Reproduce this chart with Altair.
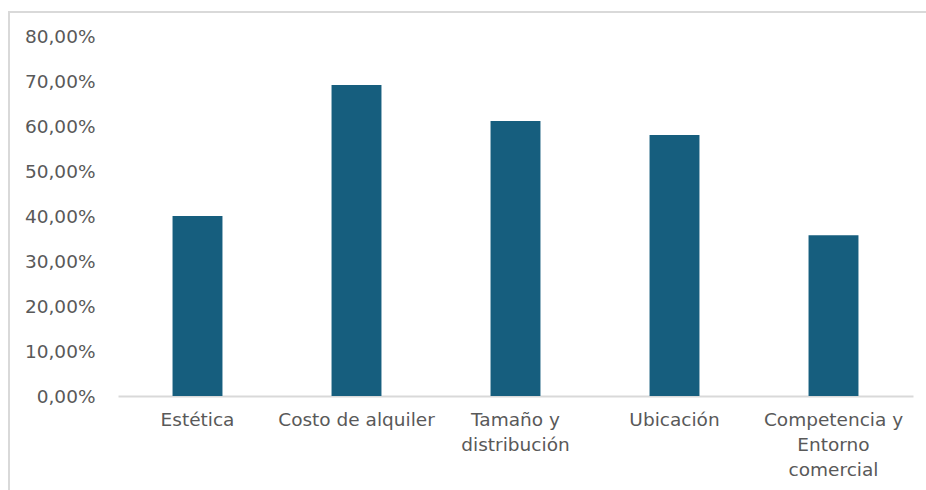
import altair as alt
import pandas as pd

# Survey factors and the share of respondents who rated each one as important
categorias = [
    "Estética",
    "Costo de alquiler",
    "Tamaño y|distribución",
    "Ubicación",
    "Competencia y|Entorno|comercial",
]
porcentajes = [0.400, 0.691, 0.611, 0.580, 0.357]
ticks_y = [0.0, 0.1, 0.2, 0.3, 0.4, 0.5, 0.6, 0.7, 0.8]

df = pd.DataFrame({"categoria": categorias, "valor": porcentajes})

FONT = "DejaVu Sans"
FS = 18.5
GRIS_TEXTO = "#595959"
GRIS_LINEA = "#D9D9D9"
AZUL = "#165E7E"

W, H = 795, 360
PAD_L, PAD_T = 118, 36

bars = alt.Chart(df).mark_bar(color=AZUL).encode(
    x=alt.X(
        "categoria:N",
        sort=None,
        title=None,
        scale=alt.Scale(paddingInner=0.686, paddingOuter=0.343),
        axis=alt.Axis(
            labelAngle=0,
            labelExpr="split(datum.label, '|')",
            labelLineHeight=25,
            labelPadding=14,
            labelFontSize=FS,
            labelColor=GRIS_TEXTO,
            labelFont=FONT,
            ticks=False,
            domainColor=GRIS_LINEA,
            domainWidth=2,
            labelBaseline="top",
        ),
    ),
    y=alt.Y(
        "valor:Q",
        title=None,
        scale=alt.Scale(domain=[0, 0.8], nice=False),
        axis=alt.Axis(
            values=ticks_y,
            labelExpr="replace(format(datum.value, '.2%'), '.', ',')",
            labelPadding=23,
            labelFontSize=FS,
            labelColor=GRIS_TEXTO,
            labelFont=FONT,
            ticks=False,
            domain=False,
            grid=False,
        ),
    ),
)

# Light frame around the whole chart area
marco = alt.Chart(pd.DataFrame({"k": [0]})).mark_rect(
    fill=None, stroke=GRIS_LINEA, strokeWidth=2
).encode(
    x=alt.value(9 - PAD_L),
    y=alt.value(12 - PAD_T),
    x2=alt.value(1000 - PAD_L),
    y2=alt.value(560 - PAD_T),
)

chart = (
    alt.layer(marco, bars)
    .properties(
        width=W,
        height=H,
        padding={"left": PAD_L, "top": PAD_T, "right": 926 - PAD_L - W, "bottom": 490 - PAD_T - H},
        autosize=alt.AutoSizeParams(type="none"),
        background="white",
    )
    .configure_view(stroke=None)
)

chart.save("out.html", embed_options={"renderer": "svg", "actions": False})
